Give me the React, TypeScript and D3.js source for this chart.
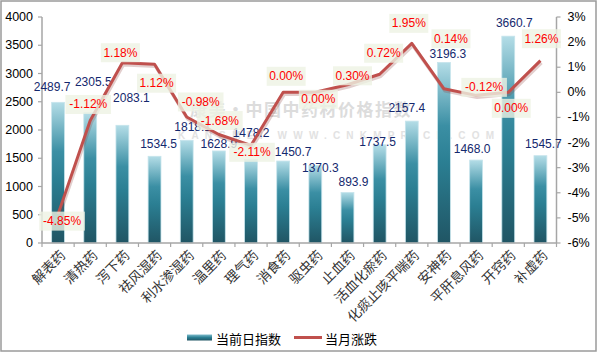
import React from 'react';
import * as d3 from 'd3';

const categories = ['解表药', '清热药', '泻下药', '祛风湿药', '利水渗湿药', '温里药', '理气药', '消食药', '驱虫药', '止血药', '活血化瘀药', '化痰止咳平喘药', '安神药', '平肝息风药', '开窍药', '补虚药'];
const indexValues = [2489.7, 2305.5, 2083.1, 1534.5, 1818.1, 1628.9, 1478.2, 1450.7, 1370.3, 893.9, 1737.5, 2157.4, 3196.3, 1468.0, 3660.7, 1545.7];
const monthChange = [-4.85, -1.12, 1.18, 1.12, -0.98, -1.68, -2.11, 0.0, 0.0, 0.3, 0.72, 1.95, 0.14, -0.12, 0.0, 1.26];
const leftTicks = [0, 500, 1000, 1500, 2000, 2500, 3000, 3500, 4000];
const rightTicks = [-6, -5, -4, -3, -2, -1, 0, 1, 2, 3];

// label nudges (label centre relative to bar top / line point)
const barLabelOffset = [[-6, -15], [3, -31], [9, -27], [4, -12], [6, -13], [0, -7], [0, -26], [10, -9], [5, 2], [6, -10], [-2, -3], [-5, -13], [4, -8], [-4, -11], [6, -13], [3, -12]];
const pctLabelOffset = [[4, 7], [-2, -16], [-2, -10], [2, 19], [14, -15], [1, -14], [1, 7], [3, -16], [3, 7], [5, -9], [4, -21], [-3, -20], [7, -50], [8, -8], [3, 16], [1, -22]];

const W = 598;
const H = 353;
const left = 42;
const right = 556.5;
const top = 17;
const bottom = 243;
const numFont = '"Liberation Sans", Arial, sans-serif';
const cjkFont = '"Noto Sans CJK SC", sans-serif';

export default function App() {
  const x = d3.scaleBand<string>().domain(categories).range([left, right]).paddingInner(0.6).paddingOuter(0.3);
  const yL = d3.scaleLinear().domain([0, 4000]).range([bottom, top]);
  const yR = d3.scaleLinear().domain([-6, 3]).range([bottom, top]);
  const step = x.step();
  const cx = (c: string) => (x(c) as number) + x.bandwidth() / 2;

  const line = d3.line<number>()
    .x((_, i) => cx(categories[i]))
    .y(d => yR(d))
    .curve(d3.curveLinear);

  return (
    <svg width={W} height={H} style={{ position: 'absolute', left: 0, top: 0, background: '#fff' }}>
      <defs>
        <linearGradient id="barGrad" x1="0" x2="0" y1="0" y2="1">
          <stop offset="0%" stopColor="#b4dde7" />
          <stop offset="35%" stopColor="#3b8fa4" />
          <stop offset="55%" stopColor="#2b7f93" />
          <stop offset="100%" stopColor="#205564" />
        </linearGradient>
        <linearGradient id="legGrad" x1="0" x2="0" y1="0" y2="1">
          <stop offset="0%" stopColor="#7fbccc" />
          <stop offset="50%" stopColor="#2b7f93" />
          <stop offset="100%" stopColor="#205564" />
        </linearGradient>
      </defs>
      <rect x={1} y={1} width={595} height={350} fill="#fff" stroke="#9a9a9a" strokeWidth={1.5} />

      {/* watermark */}
      <text x={190} y={116} fontFamily={cjkFont} fontWeight="bold" fontSize={17} fill="#dcdcdc" letterSpacing={1.5}>康美·中国中药材价格指数</text>
      <text x={178} y={139} fontFamily={numFont} fontWeight="bold" fontSize={10} fill="#e2e2e2" letterSpacing={6.2}>KANGMEI WWW.CNKMPRICE.COM</text>

      {/* bars */}
      {categories.map((c, i) => (
        <rect key={c} x={x(c)} y={yL(indexValues[i])} width={x.bandwidth()} height={bottom - yL(indexValues[i])}
          fill="url(#barGrad)" stroke="#c6e4ec" strokeWidth={0.8} />
      ))}

      {/* axes */}
      <line x1={left} x2={left} y1={top} y2={bottom} stroke="#a6a6a6" strokeWidth={1.5} />
      <line x1={right} x2={right} y1={top} y2={bottom} stroke="#a6a6a6" strokeWidth={1.5} />
      <line x1={left} x2={right} y1={bottom} y2={bottom} stroke="#a6a6a6" strokeWidth={1.5} />
      {leftTicks.map(t => (
        <g key={'l' + t}>
          <line x1={left - 4} x2={left} y1={yL(t)} y2={yL(t)} stroke="#a6a6a6" strokeWidth={1.2} />
          <text x={left - 9} y={yL(t)} textAnchor="end" dominantBaseline="central" fontFamily={numFont} fontSize={12.5} fill="#000">{t}</text>
        </g>
      ))}
      {rightTicks.map(t => (
        <g key={'r' + t}>
          <line x1={right} x2={right + 4} y1={yR(t)} y2={yR(t)} stroke="#a6a6a6" strokeWidth={1.2} />
          <text x={right + 11} y={yR(t)} textAnchor="start" dominantBaseline="central" fontFamily={numFont} fontSize={12.5} fill="#000">{t + '%'}</text>
        </g>
      ))}
      {d3.range(categories.length + 1).map(i => (
        <line key={'x' + i} x1={left + i * step} x2={left + i * step} y1={bottom} y2={bottom + 4} stroke="#a6a6a6" strokeWidth={1.2} />
      ))}
      {categories.map(c => (
        <text key={'xl' + c} transform={`translate(${cx(c) + 4},${bottom + 9}) rotate(-45)`} textAnchor="end" dominantBaseline="central"
          fontFamily={cjkFont} fontSize={13.5} fill="#333">{c}</text>
      ))}

      {/* bar value labels */}
      {categories.map((c, i) => (
        <text key={'bv' + c} x={cx(c) + barLabelOffset[i][0]} y={yL(indexValues[i]) + barLabelOffset[i][1]} textAnchor="middle"
          dominantBaseline="central" fontFamily={numFont} fontSize={12} fill="#14286e">{indexValues[i].toFixed(1)}</text>
      ))}

      {/* line */}
      <path d={line(monthChange) || ''} fill="none" stroke="#8a3a38" strokeOpacity={0.25} strokeWidth={3.5} transform="translate(1,2)" strokeLinejoin="round" />
      <path d={line(monthChange) || ''} fill="none" stroke="#c0504d" strokeWidth={3} strokeLinejoin="round" />

      {/* percent labels */}
      {categories.map((c, i) => {
        const px = cx(c) + pctLabelOffset[i][0];
        const py = yR(monthChange[i]) + pctLabelOffset[i][1];
        const txt = monthChange[i].toFixed(2) + '%';
        const w = txt.length * 6.6 + 6;
        return (
          <g key={'pl' + c}>
            <rect x={px - w / 2} y={py - 9.5} width={w} height={19} fill="#eef3e4" fillOpacity={0.8} />
            <text x={px} y={py} textAnchor="middle" dominantBaseline="central" fontFamily={numFont} fontSize={12} fill="#ff0000">{txt}</text>
          </g>
        );
      })}

      {/* legend */}
      <rect x={187} y={334.5} width={25} height={6} fill="url(#legGrad)" />
      <text x={216} y={338} dominantBaseline="central" fontFamily={cjkFont} fontSize={13} fill="#000">当前日指数</text>
      <line x1={294} x2={322} y1={337.5} y2={337.5} stroke="#c0504d" strokeWidth={3} />
      <text x={325} y={338} dominantBaseline="central" fontFamily={cjkFont} fontSize={13} fill="#000">当月涨跌</text>
    </svg>
  );
}
